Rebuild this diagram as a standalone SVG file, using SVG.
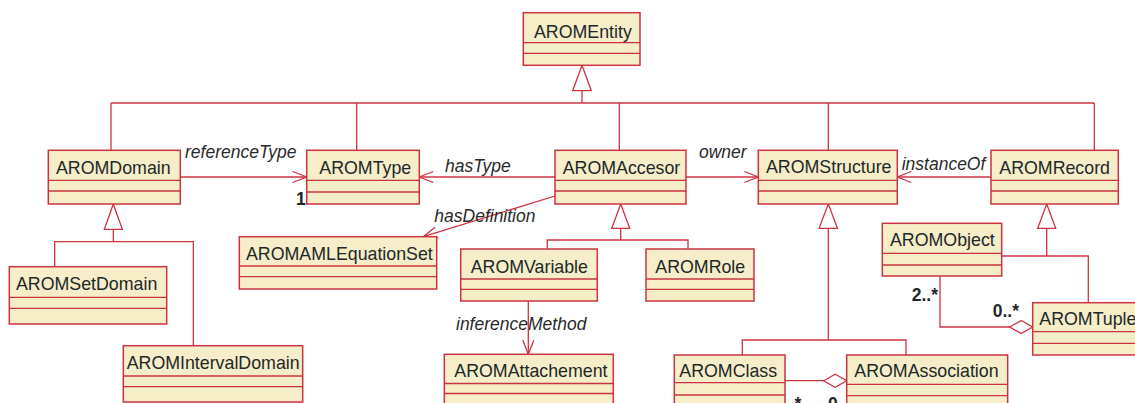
<svg xmlns="http://www.w3.org/2000/svg" width="1135" height="403" viewBox="0 0 1135 403">
<style>
.box rect{fill:#F5EEC8;stroke:#CC3340;stroke-width:1.5}
.box line{stroke:#CC3340;stroke-width:1.3}
.box text{font-family:"Liberation Sans",Arial,sans-serif;font-size:17.8px;fill:#1E2828}
.conn line,.conn polyline{stroke:#CC3340;stroke-width:1.3;fill:none}
.tri{fill:#FFFFFF;stroke:#CC3340;stroke-width:1.3}
.lbl{font-family:"Liberation Sans",Arial,sans-serif;font-size:17.5px;font-style:italic;fill:#2A2A2A}
.mul{font-family:"Liberation Sans",Arial,sans-serif;font-size:17.5px;font-weight:bold;fill:#1E2828}
</style>
<defs>
<marker id="open" markerUnits="userSpaceOnUse" markerWidth="16" markerHeight="13" refX="14" refY="6" orient="auto" overflow="visible">
<path d="M0,0.5 L14,6 L0,11.5" fill="none" stroke="#CC3340" stroke-width="1.3"/>
</marker>
<marker id="dia" markerUnits="userSpaceOnUse" markerWidth="25" markerHeight="15" refX="23" refY="6.5" orient="auto" overflow="visible">
<path d="M0,6.5 L11.5,0 L23,6.5 L11.5,13 Z" fill="#FFFFFF" stroke="#CC3340" stroke-width="1.3"/>
</marker>
</defs>
<rect width="1135" height="403" fill="#FFFFFF"/>

<g id="connectors" class="conn">
<!-- generalization to AROMEntity -->
<line x1="582" y1="90.7" x2="582" y2="103"/>
<line x1="111" y1="103" x2="1094.3" y2="103"/>
<line x1="111" y1="103" x2="111" y2="150.3"/>
<line x1="356.7" y1="103" x2="356.7" y2="150.3"/>
<line x1="619.3" y1="103" x2="619.3" y2="150.3"/>
<line x1="828.3" y1="103" x2="828.3" y2="150.3"/>
<line x1="1094.3" y1="103" x2="1094.3" y2="150.3"/>
<polygon class="tri" points="582,65.3 591.3,90.7 572.7,90.7"/>
<!-- AROMDomain subclasses -->
<line x1="113.3" y1="229.3" x2="113.3" y2="241.7"/>
<polyline points="54.7,266.7 54.7,241.7 193.3,241.7 193.3,345.7"/>
<polygon class="tri" points="113.3,204 122.3,229.3 104.3,229.3"/>
<!-- AROMAccesor subclasses -->
<line x1="620.7" y1="228.3" x2="620.7" y2="240"/>
<polyline points="547.3,249 547.3,240 688,240 688,249"/>
<polygon class="tri" points="620.7,204 629.7,228.3 611.7,228.3"/>
<!-- AROMStructure subclasses -->
<line x1="828.3" y1="228.3" x2="828.3" y2="340"/>
<polyline points="742.3,355 742.3,340 906,340 906,355"/>
<polygon class="tri" points="828.3,204 837.5,228.3 819.1,228.3"/>
<!-- AROMRecord subclasses -->
<line x1="1046.7" y1="228.3" x2="1046.7" y2="256"/>
<polyline points="1001.7,256 1088.3,256 1088.3,302.7"/>
<polygon class="tri" points="1046.7,204 1055.7,228.3 1037.7,228.3"/>
<!-- associations -->
<line x1="180.3" y1="177" x2="306.7" y2="177" marker-end="url(#open)"/>
<line x1="555" y1="177" x2="419.3" y2="177" marker-end="url(#open)"/>
<line x1="686" y1="177" x2="758.3" y2="177" marker-end="url(#open)"/>
<line x1="991" y1="177" x2="897.3" y2="177" marker-end="url(#open)"/>
<line x1="555" y1="196" x2="423.3" y2="236.7" marker-end="url(#open)"/>
<line x1="528.3" y1="301" x2="528.3" y2="354.3" marker-end="url(#open)"/>
<line x1="785" y1="380.7" x2="846.7" y2="380.7" marker-end="url(#dia)"/>
<polyline points="940,276 940,327 1032.7,327" marker-end="url(#dia)"/>
<!-- labels -->
<text class="lbl" x="185" y="157.5">referenceType</text>
<text class="mul" x="296" y="205">1</text>
<text class="lbl" x="445" y="172.3">hasType</text>
<text class="lbl" x="699" y="158.3">owner</text>
<text class="lbl" x="901.7" y="170">instanceOf</text>
<text class="lbl" x="434.3" y="221.7">hasDefinition</text>
<text class="lbl" x="456" y="329.5">inferenceMethod</text>
<text class="mul" x="911.7" y="301">2..*</text>
<text class="mul" x="992.7" y="316.7">0..*</text>
<text class="mul" x="775" y="410">2..*</text>
<text class="mul" x="828" y="410">0..*</text>
</g>

<g id="AROMEntity" class="box"><rect x="523.3" y="12.7" width="116.7" height="52.6"/><line x1="523.3" y1="42.7" x2="640" y2="42.7"/><line x1="523.3" y1="53.3" x2="640" y2="53.3"/><text x="534" y="37.5">AROMEntity</text></g>
<g id="AROMDomain" class="box"><rect x="48.3" y="150.3" width="132" height="53.7"/><line x1="48.3" y1="180.3" x2="180.3" y2="180.3"/><line x1="48.3" y1="191" x2="180.3" y2="191"/><text x="56" y="173.5">AROMDomain</text></g>
<g id="AROMType" class="box"><rect x="306.7" y="150.3" width="112.6" height="53.7"/><line x1="306.7" y1="180.3" x2="419.3" y2="180.3"/><line x1="306.7" y1="192" x2="419.3" y2="192"/><text x="319.3" y="174">AROMType</text></g>
<g id="AROMAccesor" class="box"><rect x="555" y="150.3" width="131" height="53.7"/><line x1="555" y1="180.3" x2="686" y2="180.3"/><line x1="555" y1="191" x2="686" y2="191"/><text x="562.7" y="173.5">AROMAccesor</text></g>
<g id="AROMStructure" class="box"><rect x="758.3" y="150.3" width="139" height="53.7"/><line x1="758.3" y1="180.3" x2="897.3" y2="180.3"/><line x1="758.3" y1="191" x2="897.3" y2="191"/><text x="766" y="173.3">AROMStructure</text></g>
<g id="AROMRecord" class="box"><rect x="991" y="150.3" width="127.3" height="53.7"/><line x1="991" y1="180.3" x2="1118.3" y2="180.3"/><line x1="991" y1="191" x2="1118.3" y2="191"/><text x="999.3" y="173.5">AROMRecord</text></g>
<g id="AROMSetDomain" class="box"><rect x="9.3" y="266.7" width="157.4" height="57.3"/><line x1="9.3" y1="297.3" x2="166.7" y2="297.3"/><line x1="9.3" y1="308.3" x2="166.7" y2="308.3"/><text x="16" y="290">AROMSetDomain</text></g>
<g id="AROMIntervalDomain" class="box"><rect x="123.3" y="345.7" width="179.4" height="56.3"/><line x1="123.3" y1="376" x2="302.7" y2="376"/><line x1="123.3" y1="386.7" x2="302.7" y2="386.7"/><text x="126.7" y="369">AROMIntervalDomain</text></g>
<g id="AROMAMLEquationSet" class="box"><rect x="239.3" y="236.7" width="197.4" height="52.3"/><line x1="239.3" y1="266" x2="436.7" y2="266"/><line x1="239.3" y1="276.7" x2="436.7" y2="276.7"/><text x="246" y="260">AROMAMLEquationSet</text></g>
<g id="AROMVariable" class="box"><rect x="460.7" y="249" width="136.6" height="52"/><line x1="460.7" y1="279" x2="597.3" y2="279"/><line x1="460.7" y1="289.3" x2="597.3" y2="289.3"/><text x="470.7" y="272.7">AROMVariable</text></g>
<g id="AROMRole" class="box"><rect x="646" y="249" width="108" height="52"/><line x1="646" y1="279" x2="754" y2="279"/><line x1="646" y1="289.3" x2="754" y2="289.3"/><text x="655.3" y="272.7">AROMRole</text></g>
<g id="AROMAttachement" class="box"><rect x="444.3" y="354.3" width="169" height="55"/><line x1="444.3" y1="383.5" x2="613.3" y2="383.5"/><line x1="444.3" y1="393.5" x2="613.3" y2="393.5"/><text x="454.3" y="376.7">AROMAttachement</text></g>
<g id="AROMClass" class="box"><rect x="674.3" y="355" width="110.7" height="55"/><line x1="674.3" y1="382.7" x2="785" y2="382.7"/><line x1="674.3" y1="395" x2="785" y2="395"/><text x="679.3" y="377.3">AROMClass</text></g>
<g id="AROMAssociation" class="box"><rect x="846.7" y="355" width="161" height="55"/><line x1="846.7" y1="384.3" x2="1007.7" y2="384.3"/><line x1="846.7" y1="395.7" x2="1007.7" y2="395.7"/><text x="854.3" y="377.3">AROMAssociation</text></g>
<g id="AROMObject" class="box"><rect x="882.3" y="223.3" width="119.4" height="52.7"/><line x1="882.3" y1="253.3" x2="1001.7" y2="253.3"/><line x1="882.3" y1="265" x2="1001.7" y2="265"/><text x="890" y="245.7">AROMObject</text></g>
<g id="AROMTuple" class="box"><rect x="1032.7" y="302.7" width="120" height="52.3"/><line x1="1032.7" y1="331.7" x2="1152.7" y2="331.7"/><line x1="1032.7" y1="343.3" x2="1152.7" y2="343.3"/><text x="1039.3" y="325">AROMTuple</text></g>
</svg>
